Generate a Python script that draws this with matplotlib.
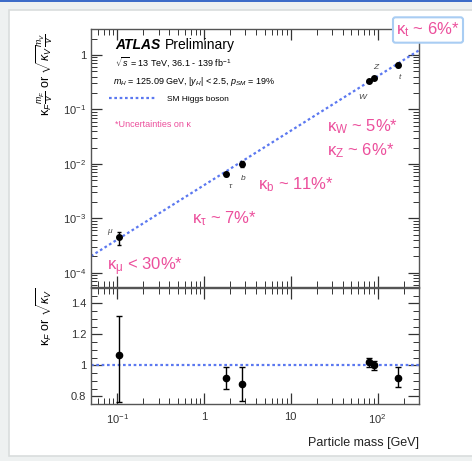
import matplotlib
matplotlib.use("Agg")
import matplotlib.pyplot as plt
from matplotlib.patches import Rectangle
from matplotlib.ticker import FixedLocator, FuncFormatter, MultipleLocator, LogLocator, NullFormatter
import numpy as np

# particle masses [GeV]: mu, tau, b, W, Z, t
masses = [0.1057, 1.777, 2.76, 80.4, 91.19, 172.5]
labels = ["μ", "τ", "b", "W", "Z", "t"]

# top panel: kappa*m/v
reduced = [4.6e-4, 6.6e-3, 9.8e-3, 0.333, 0.371, 0.646]
reduced_lo = [3.3e-4, 6.1e-3, 8.7e-3, 0.323, 0.360, 0.600]
reduced_hi = [5.7e-4, 7.15e-3, 1.11e-2, 0.343, 0.382, 0.700]

# bottom panel: kappa ratio
kappa = [1.07, 0.92, 0.88, 1.02, 1.00, 0.92]
kappa_lo = [0.76, 0.85, 0.77, 0.99, 0.97, 0.86]
kappa_hi = [1.32, 0.99, 0.99, 1.05, 1.03, 0.99]

# SM expectation m/v across the x range
sm_x = [0.05, 300]
sm_y = [2.03e-4, 1.22]
sm_ratio = [1.0, 1.0]

pink = "#ec4f9c"
blue = "#5b78f0"

plt.rcParams["font.family"] = ["Liberation Sans", "DejaVu Sans"]
plt.rcParams["mathtext.fontset"] = "custom"
plt.rcParams["mathtext.rm"] = "Liberation Sans"
plt.rcParams["mathtext.it"] = "Liberation Sans:italic"
plt.rcParams["mathtext.bf"] = "Liberation Sans:bold"

W, H = 472, 461
fig = plt.figure(figsize=(W / 100, H / 100), dpi=100)
fig.patch.set_facecolor("#eef1f1")

# card look of the screenshot
fig.patches.append(Rectangle((9 / W, 1 - 456 / H), 1.0, (456 - 10) / H, transform=fig.transFigure,
                             facecolor="white", edgecolor="#d9dddd", linewidth=1.2, zorder=-10))
fig.patches.append(Rectangle((0, 1 - 2 / H), 1, 2 / H, transform=fig.transFigure,
                             facecolor="#3d6cc8", edgecolor="none", zorder=-10))


def px_axes(x0, y0, x1, y1):
    return fig.add_axes([x0 / W, 1 - y1 / H, (x1 - x0) / W, (y1 - y0) / H])


ax1 = px_axes(91, 29, 419, 287)
ax2 = px_axes(91, 288, 419, 404)


def log_fmt(v, pos):
    if np.isclose(v, 1):
        return "1"
    if np.isclose(v, 10):
        return "10"
    e = int(round(np.log10(v)))
    return r"$10^{%d}$" % e


for ax in (ax1, ax2):
    ax.set_xscale("log")
    ax.set_xlim(0.05, 300)
    ax.xaxis.set_major_locator(FixedLocator([0.1, 1, 10, 100]))
    ax.xaxis.set_minor_locator(LogLocator(base=10, subs=np.arange(2, 10)))
    ax.xaxis.set_minor_formatter(NullFormatter())
    ax.tick_params(which="both", direction="in", top=True, right=True, colors="#333333", labelsize=8)
    ax.tick_params(which="major", length=8, width=0.9)
    ax.tick_params(which="minor", length=4, width=0.7)
    for s in ax.spines.values():
        s.set_color("#555555")
        s.set_linewidth(1.0)

ax1.set_yscale("log")
ax1.set_ylim(5.5e-5, 3)
ax1.yaxis.set_major_locator(FixedLocator([1e-4, 1e-3, 1e-2, 1e-1, 1]))
ax1.yaxis.set_minor_locator(LogLocator(base=10, subs=np.arange(2, 10)))
ax1.yaxis.set_minor_formatter(NullFormatter())
ax1.yaxis.set_major_formatter(FuncFormatter(log_fmt))
ax1.set_xticklabels([])

ax2.set_ylim(0.75, 1.5)
ax2.yaxis.set_major_locator(FixedLocator([0.8, 1.0, 1.2, 1.4]))
ax2.yaxis.set_minor_locator(MultipleLocator(0.05))
ax2.yaxis.set_major_formatter(FuncFormatter(lambda v, p: "1" if np.isclose(v, 1) else "%.1f" % v))
ax2.xaxis.set_major_formatter(FuncFormatter(log_fmt))
ax2.tick_params(axis="x", pad=6)

# SM lines
ax1.plot(sm_x, sm_y, ls=(0, (1.2, 1.2)), color=blue, lw=1.6, label="SM Higgs boson")
ax2.plot(sm_x, sm_ratio, ls=(0, (1.2, 1.2)), color=blue, lw=1.6)

# measurements
red = np.array(reduced)
ax1.errorbar(masses, reduced, yerr=[red - np.array(reduced_lo), np.array(reduced_hi) - red],
             fmt="o", color="black", ms=4, elinewidth=1.0, capsize=1.5, capthick=1.0, zorder=5)
k = np.array(kappa)
ax2.errorbar(masses, kappa, yerr=[k - np.array(kappa_lo), np.array(kappa_hi) - k],
             fmt="o", color="black", ms=4.5, elinewidth=1.0, capsize=2, capthick=1.0, zorder=5,
             clip_on=False)

# particle labels
label_offsets = [(-7, 4), (3, -9), (1, -10), (-5, -12), (1, 8), (1, -9)]
for m, r, lab, off in zip(masses, reduced, labels, label_offsets):
    ax1.annotate(lab, (m, r), xytext=off, textcoords="offset points", fontsize=6,
                 color="#444444", ha="center", va="center", style="italic")

# header text
ax1.text(0.073, 0.938, "ATLAS", transform=ax1.transAxes, fontsize=10, weight="bold",
         style="italic", va="center")
ax1.text(0.226, 0.938, "Preliminary", transform=ax1.transAxes, fontsize=10, va="center")
ax1.text(0.073, 0.872, r"$\sqrt{s}$ = 13 TeV, 36.1 - 139 fb$^{-1}$", transform=ax1.transAxes,
         fontsize=6.5, va="center")
ax1.text(0.068, 0.798, r"$m_H$ = 125.09 GeV, |$y_H$| < 2.5, $p_{SM}$ = 19%",
         transform=ax1.transAxes, fontsize=6.5, va="center")
ax1.legend(loc="upper left", bbox_to_anchor=(0.045, 0.757), frameon=False, fontsize=6,
           handlelength=5.8, handletextpad=1.2, borderaxespad=0)
ax1.text(0.072, 0.628, "*Uncertainties on κ", transform=ax1.transAxes,
         fontsize=6.5, va="center", color=pink)

# uncertainty labels
unc = [(0.720, 0.620, r"κ$_\mathrm{W}$ ~ 5%*"),
       (0.720, 0.527, r"κ$_\mathrm{Z}$ ~ 6%*"),
       (0.510, 0.395, r"κ$_\mathrm{b}$ ~ 11%*"),
       (0.309, 0.264, r"κ$_\mathrm{τ}$ ~ 7%*"),
       (0.050, 0.078, r"κ$_\mathrm{μ}$ < 30%*")]
for x, y, s in unc:
    ax1.text(x, y, s, transform=ax1.transAxes, fontsize=12, color=pink, va="center")

fig.text(428 / W, 1 - 30 / H, r"κ$_\mathrm{t}$ ~ 6%*", fontsize=12, color=pink, ha="center",
         va="center", zorder=10,
         bbox=dict(boxstyle="round,pad=0.2,rounding_size=0.15", facecolor="white",
                   edgecolor="#a9cdf3", linewidth=1.5))

# axis titles
fig.text(45 / W, 1 - 33 / H, r"κ$_F\frac{m_F}{v}$ or $\sqrt{κ_V}\frac{m_V}{v}$",
         rotation=90, ha="center", va="top", fontsize=9)
fig.text(45 / W, 1 - 287 / H, r"κ$_F$ or $\sqrt{κ_V}$", rotation=90,
         ha="center", va="top", fontsize=9)
fig.text(419 / W, 1 - 443 / H, "Particle mass [GeV]", ha="right", va="center", fontsize=9,
         color="#222222")

fig.savefig("out.png", dpi=100, facecolor=fig.get_facecolor())
